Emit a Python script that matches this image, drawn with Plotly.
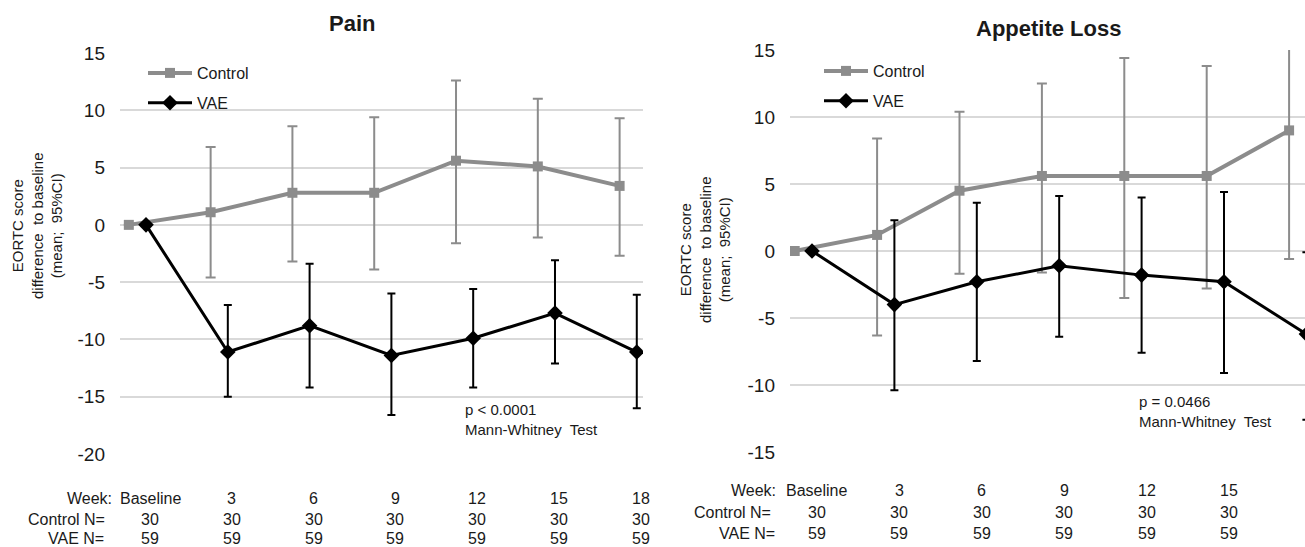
import plotly.graph_objects as go

W, H = 1305, 547

weeks = ["Baseline", "3", "6", "9", "12", "15", "18"]
control_n = [30, 30, 30, 30, 30, 30, 30]
vae_n = [59, 59, 59, 59, 59, 59, 59]

# Pain
pain_control_mean = [0, 1.1, 2.8, 2.8, 5.6, 5.1, 3.4]
pain_control_lo = [None, -4.6, -3.2, -3.9, -1.6, -1.1, -2.7]
pain_control_hi = [None, 6.8, 8.6, 9.4, 12.6, 11.0, 9.3]
pain_vae_mean = [0, -11.1, -8.8, -11.4, -9.9, -7.7, -11.1]
pain_vae_lo = [None, -15.0, -14.2, -16.6, -14.2, -12.1, -16.0]
pain_vae_hi = [None, -7.0, -3.4, -6.0, -5.6, -3.1, -6.1]
pain_yticks = [15, 10, 5, 0, -5, -10, -15, -20]

# Appetite loss
app_control_mean = [0, 1.2, 4.5, 5.6, 5.6, 5.6, 9.0]
app_control_lo = [None, -6.3, -1.7, -1.6, -3.5, -2.8, -0.6]
app_control_hi = [None, 8.4, 10.4, 12.5, 14.4, 13.8, 18.6]
app_vae_mean = [0, -4.0, -2.3, -1.1, -1.8, -2.3, -6.2]
app_vae_lo = [None, -10.4, -8.2, -6.4, -7.6, -9.1, -12.6]
app_vae_hi = [None, 2.3, 3.6, 4.1, 4.0, 4.4, -0.1]
app_yticks = [15, 10, 5, 0, -5, -10, -15]

FONT = "Liberation Sans, Arial, sans-serif"
GRAY = "#8c8c8c"
TXT = "#1a1a1a"

idx = list(range(len(weeks)))
ctrl_x = [i - 0.21 for i in idx]
vae_x = list(idx)


def plus(mean, hi):
    return [None if h is None else h - m for m, h in zip(mean, hi)]


def minus(mean, lo):
    return [None if l is None else m - l for m, l in zip(mean, lo)]


fig = go.Figure()


def add_pair(cm, clo, chi, vm, vlo, vhi, xa, ya, leg):
    fig.add_trace(go.Scatter(
        x=ctrl_x, y=cm, xaxis=xa, yaxis=ya, mode="lines+markers", name="Control",
        legend=leg, legendgroup=leg + "c",
        line=dict(color=GRAY, width=4),
        marker=dict(symbol="square", size=10, color=GRAY),
        error_y=dict(type="data", symmetric=False, array=plus(cm, chi),
                     arrayminus=minus(cm, clo), color=GRAY, thickness=2, width=5),
    ))
    fig.add_trace(go.Scatter(
        x=vae_x, y=vm, xaxis=xa, yaxis=ya, mode="lines+markers", name="VAE",
        legend=leg, legendgroup=leg + "v",
        line=dict(color="black", width=3),
        marker=dict(symbol="diamond", size=12, color="black"),
        error_y=dict(type="data", symmetric=False, array=plus(vm, vhi),
                     arrayminus=minus(vm, vlo), color="black", thickness=2, width=4),
    ))


add_pair(pain_control_mean, pain_control_lo, pain_control_hi,
         pain_vae_mean, pain_vae_lo, pain_vae_hi, "x", "y", "legend")
add_pair(app_control_mean, app_control_lo, app_control_hi,
         app_vae_mean, app_vae_lo, app_vae_hi, "x2", "y2", "legend2")


def px(x):
    return x / W


def py(y):
    return (H - y) / H


axis_common = dict(showgrid=True, gridcolor="#d9d9d9", gridwidth=1.5, zeroline=False,
                   showline=False, tickfont=dict(family=FONT, size=19, color=TXT),
                   ticklabelstandoff=14, tickmode="array", automargin=False)

legend_common = dict(xanchor="left", yanchor="top", bgcolor="rgba(0,0,0,0)",
                     tracegroupgap=6, itemwidth=44,
                     font=dict(family=FONT, size=16, color=TXT))

fig.update_layout(
    width=W, height=H, margin=dict(l=0, r=0, t=0, b=0, pad=0, autoexpand=False),
    paper_bgcolor="white", plot_bgcolor="white",
    xaxis=dict(domain=[px(120), px(643)], range=[-0.318, 6.076], showgrid=False,
               zeroline=False, showticklabels=False, anchor="y", automargin=False),
    yaxis=dict(domain=[py(454), py(53)], range=[-20, 15], anchor="x",
               tickvals=pain_yticks, ticktext=[str(v) for v in pain_yticks], **axis_common),
    xaxis2=dict(domain=[px(790), 1.0], range=[-0.267, 5.983], showgrid=False,
                zeroline=False, showticklabels=False, anchor="y2", automargin=False),
    yaxis2=dict(domain=[py(452), py(50)], range=[-15, 15], anchor="x2",
                tickvals=app_yticks, ticktext=[str(v) for v in app_yticks], **axis_common),
    legend=dict(x=px(143), y=py(56), **legend_common),
    legend2=dict(x=px(819), y=py(54), **legend_common),
    showlegend=True,
)

ann = []


def note(text, x, y, size, xanchor="center", xref="paper", **kw):
    ann.append(dict(text=text, x=x, y=py(y), xref=xref, yref="paper",
                    xanchor=xanchor, yanchor="middle", showarrow=False,
                    font=dict(family=FONT, size=size, color=TXT), **kw))


# titles
note("<b>Pain</b>", px(352), 24, 22)
note("<b>Appetite Loss</b>", px(1048), 28, 22)
# y-axis titles
ytitle = "EORTC score<br>difference  to baseline<br>(mean;  95%CI)"
note(ytitle, px(37), 226, 15, textangle=-90)
note(ytitle, px(705), 250, 15, textangle=-90)
# p values
note("p < 0.0001<br>Mann-Whitney  Test", px(463), 419, 15, xanchor="left", align="left")
note("p = 0.0466<br>Mann-Whitney  Test", px(1137), 411, 15, xanchor="left", align="left")

# bottom tables
row_labels = ["Week:", "Control N=", "VAE N="]
rows = [weeks, control_n, vae_n]
tables = [
    dict(xref="x", off=0.05, ys=[498, 519, 538], lab_x=[114, 107, 106]),
    dict(xref="x2", off=0.06, ys=[490, 512, 533], lab_x=[778, 773, 777]),
]
for t in tables:
    for r, (lab, vals) in enumerate(zip(row_labels, rows)):
        note(lab, px(t["lab_x"][r]), t["ys"][r], 16, xanchor="right")
        for i, v in enumerate(vals):
            note(str(v), i + t["off"], t["ys"][r], 16, xref=t["xref"])

fig.update_layout(annotations=ann)
fig.write_html("out.html", config={"displayModeBar": False},
               post_script="document.body.style.margin='0';document.body.style.overflow='hidden';")
